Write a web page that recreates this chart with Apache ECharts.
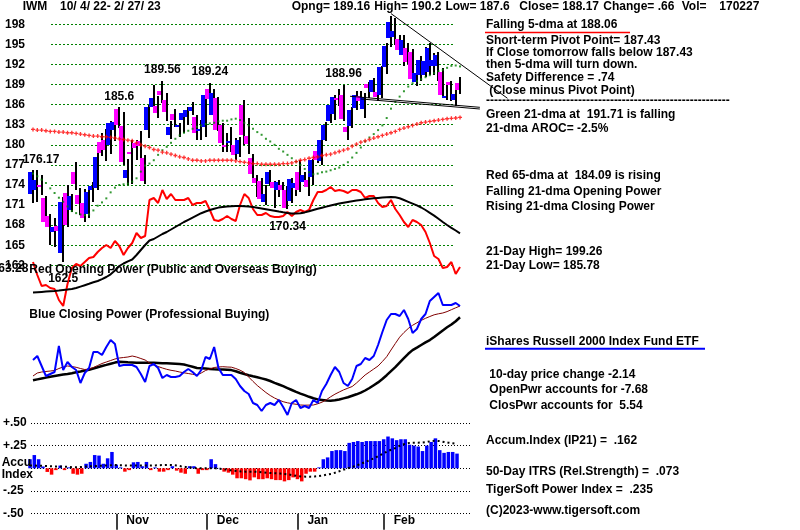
<!DOCTYPE html>
<html><head><meta charset="utf-8">
<script src="https://cdn.jsdelivr.net/npm/echarts@6/dist/echarts.min.js"></script>
<style>html,body{margin:0;padding:0;background:#fff}#c{width:800px;height:530px}</style>
</head><body><div id="c"></div>
<script>
// ---------- DATA ----------
const opens  = [172.6,173.3,174.0,172.1,169.4,167.0,167.9,163.8,172.8,170.2,176.0,172.5,171.3,169.7,173.2,173.5,180.4,180.7,179.9,182.2,185.4,182.8,175.1,179.0,180.2,180.6,178.0,182.2,185.7,185.8,188.1,186.7,181.5,184.6,182.6,183.7,184.2,185.1,184.2,182.0,182.7,188.4,184.5,187.0,183.0,179.9,180.3,179.9,178.7,186.0,181.3,178.0,175.0,174.6,171.5,174.2,174.4,173.2,174.0,173.2,171.6,173.5,176.0,174.4,174.7,175.2,179.1,177.6,180.7,183.6,184.6,187.0,187.5,182.7,182.8,185.5,187.3,185.3,189.1,187.9,187.9,187.4,191.6,195.9,196.1,195.8,193.4,194.4,193.8,189.4,190.4,190.5,190.9,191.7,191.7,190.9,187.0,189.4,186.7,189.16];
const highs  = [176.17,176.3,175.5,172.3,169.6,169.0,168.5,172.2,174.0,172.6,177.4,173.6,173.4,173.3,174.5,179.0,181.8,182.3,183.5,183.8,185.6,184.9,177.9,180.7,180.7,182.1,178.5,186.0,188.9,187.3,189.56,187.7,183.6,185.4,183.2,185.0,185.7,186.4,184.5,183.7,188.0,189.24,188.3,187.2,183.3,181.7,182.7,181.0,181.2,186.7,184.0,178.6,175.5,175.0,174.0,176.2,174.6,174.8,174.5,173.8,175.0,174.5,177.7,176.0,177.6,177.9,180.3,181.0,183.4,186.2,187.4,188.3,188.96,183.7,185.6,188.1,188.0,187.7,189.4,190.0,188.6,191.8,195.2,199.26,199.0,196.4,196.4,195.2,194.3,191.0,193.3,194.6,195.2,193.7,193.8,191.4,188.9,189.5,188.2,190.2];
const lows   = [171.3,171.4,172.5,167.9,165.0,164.8,166.3,162.5,167.8,169.9,173.2,169.5,168.4,169.0,171.5,173.2,178.3,177.6,178.6,180.6,182.5,177.0,174.0,174.2,177.7,177.7,174.2,181.0,185.2,184.0,186.2,183.6,180.9,182.6,181.2,181.7,183.0,184.4,180.7,180.7,181.2,185.5,184.2,182.0,179.0,178.9,179.0,177.7,178.2,180.0,178.7,175.0,172.2,171.6,171.0,173.8,170.6,172.2,172.3,170.34,171.3,172.4,172.9,173.7,172.4,174.0,177.3,177.0,180.5,183.2,183.7,185.8,183.5,180.7,182.5,185.2,185.6,184.0,187.0,187.4,186.6,187.0,190.6,194.6,194.9,193.4,191.7,192.0,189.4,188.8,189.5,190.2,190.5,190.5,189.6,187.2,186.7,186.5,185.78,187.6];
const closes = [176.0,174.8,173.7,168.5,167.7,167.8,167.1,171.5,168.0,172.3,174.2,171.2,169.0,172.9,173.8,178.2,178.8,179.2,183.3,183.4,182.9,177.4,176.3,178.7,179.5,179.8,174.6,185.6,187.0,184.7,187.4,184.9,182.7,183.7,182.9,184.8,185.2,185.7,181.7,182.3,187.4,186.9,187.8,182.2,180.2,179.6,180.6,178.5,180.7,181.4,180.1,175.6,174.3,171.9,172.6,176.0,173.6,174.4,173.2,170.6,174.9,174.3,173.2,175.5,173.7,177.7,177.7,180.7,182.9,186.0,187.2,186.8,183.8,181.9,185.2,187.4,186.6,187.2,188.5,189.7,187.1,191.6,194.7,198.4,197.0,194.2,195.7,192.4,189.9,190.7,192.7,192.5,194.4,192.7,193.4,187.4,187.3,189.0,187.6,188.17];
const ma21   = [175.7,175.3,174.8,174.3,173.5,172.8,172.1,171.5,170.8,170.1,169.8,169.6,169.5,169.6,170.2,170.9,171.4,172.0,172.9,173.6,174.0,174.1,174.2,174.5,175.0,176.0,176.9,177.2,177.7,178.5,179.2,179.7,180.3,180.9,181.4,181.8,182.1,182.4,182.7,182.9,183.1,183.2,183.3,183.5,183.6,183.6,183.8,183.9,183.7,183.3,182.9,182.4,181.9,181.5,180.9,180.5,180.0,179.4,179.0,178.5,178.0,177.5,177.0,176.4,175.9,175.6,175.7,175.9,176.0,176.2,176.4,176.6,177.0,177.4,178.1,178.8,179.6,180.5,181.1,181.6,182.2,182.9,184.0,185.4,186.4,187.2,188.0,188.7,189.2,189.5,189.8,190.1,190.4,190.7,191.0,191.2,191.5,191.8,191.85,191.71];
const ma65   = [182.3,182.2,182.2,182.1,182.0,182.0,181.9,181.9,181.8,181.8,181.7,181.6,181.5,181.4,181.3,181.3,181.2,181.2,181.1,181.0,180.9,180.8,180.7,180.6,180.3,180.0,179.8,179.6,179.3,179.2,178.9,178.8,178.6,178.4,178.2,178.1,177.9,177.7,177.7,177.6,177.6,177.7,177.7,177.7,177.7,177.7,177.7,177.6,177.5,177.4,177.3,177.2,177.2,177.1,177.1,177.1,177.1,177.1,177.2,177.2,177.3,177.5,177.7,177.8,178.0,178.1,178.2,178.4,178.5,178.6,178.8,179.0,179.2,179.4,179.8,180.1,180.4,180.6,180.8,181.0,181.2,181.4,181.6,181.8,182.0,182.3,182.5,182.7,182.9,183.1,183.3,183.4,183.5,183.6,183.7,183.8,183.9,183.95,184.0,184.09];
// trend lines [dayIndex, price]
const downTrend = [[83,199.6],[110,186.95]];
const supportA  = [[73.5,187.25],[103.6,185.6]];
const supportB  = [[76,186.85],[103.6,185.35]];
// Opening Power (relative units) and its 21-dma
const openPower   = [48,35,24,25,22,21,10,4,26,42,46,44,48,52,53,58,62,65,62,69,64,55,62,67,77,72,74,110,112,107,120,111,116,110,110,110,112,105,107,107,109,100,90,89,91,94,91,89,105,116,112,101,95,95,97,94,93,93,94,98,94,98,100,98,100,110,118,118,120,123,119,120,119,117,120,120,118,112,114,114,107,103,104,110,101,95,88,83,90,88,85,78,67,54,51,42,43,48,36,43];
const openPowerMA = [17.5,17.8,18.1,18.4,18.7,19,19.4,19.9,20.4,21,22,23.4,24.8,26.2,27.7,29,30.8,33,35.7,39.5,44,46.5,48.7,50.5,55,60,65,69.5,71,73.5,76,78,80.5,83,85.5,88,90.2,92.4,94.6,96.8,98.5,100,101.3,102.4,103,103.5,103.8,104,104,103.7,103.4,102.9,102.3,101.6,100.8,100,99.2,98.4,97.7,97.1,96.6,96.4,96.8,97.6,98.7,100,101.2,102.3,103.4,104.5,105.5,106.4,107.2,108,108.8,109.5,110.1,110.7,111.2,111.7,112.1,112.5,112.8,113.1,112.7,111.7,110,108.2,106.4,104.6,102.5,100,97.2,94.4,91.2,88,85,82.2,79.5,76.7];
// Closing Power (relative units), short MA and 21-dma
const closePower   = [70,74,64,54,56,58,84,60,68,63,60,47,57,62,78,78,75,83,90,86,64,65,65,65,63,56,48,64,66,62,52,55,53,53,54,58,61,58,54,60,73,71,83,62,55,55,55,51,44,39,36,27,25,19,25,27,25,30,23,15,27,30,22,24,22,30,27,39,46,55,63,58,47,44,51,64,66,72,70,74,85,98,110,116,116,114,120,111,97,101,111,116,129,133,137,125,125,125,127,124];
const closePowerMA = [54,57,58,58.5,59,59.5,61.5,63,64,63.5,62.7,61.5,60.5,61,62.5,64.5,66.5,68,69.5,71,72,72.5,73,74,73,71.5,70,67,65,63.5,62,60.7,59.7,59,58,57.2,56.5,55.7,55,57,59.5,61,62.5,63,63.3,63,62.8,61.5,59.8,57.5,53,48.6,44.5,41,37.5,34.5,32,30,28.3,27.2,26.4,25.7,25,24.8,24.9,25,26.2,27.8,30.2,33.2,35.8,38,40.1,41.8,43.5,47,51,55,58,61,64,68.5,73.3,80,86.5,92.8,97.5,101.5,104.7,107.2,109.6,111.7,113.5,115.2,116.2,117,118.4,120.3,122.2,124];
const closePowerMA21 = [49.7,50.6,51.5,52.4,53.3,54,54.7,55.4,56,56.8,57.7,58.5,59.4,60.3,61.5,62.8,64,65.1,66.3,67.4,68.2,68,67.7,67.5,67.3,67.3,67.3,67.3,67.2,67,66.8,66.7,66.5,66.3,66,65.5,64.4,63.2,62,61.7,61.4,61.1,60.8,60.6,60.4,60.2,59.9,58.8,57.3,56,54.8,53.7,52.7,51.6,50.5,49,47.2,45.5,43.8,41.9,40,38.1,36.4,34.8,33.2,31.7,30.6,30.1,29.6,29.3,29.7,30.5,31.6,32.7,34.2,35.7,37.4,39.5,42,44.8,47.6,51,54.8,58.8,62.8,67.4,71.8,76.2,79.9,82.4,85,87.6,89.9,93,96.3,99.6,102.7,105.5,108.8,112.7];
// Accumulation index (IP21) and its moving average
const accumIndex = [0.10,0.146,0.10,0.02,-0.04,-0.07,-0.02,0.03,-0.02,0.01,-0.06,-0.07,-0.06,0.05,0.07,0.146,0.14,0.05,0.11,0.18,0.04,0.01,-0.037,-0.02,0.066,0.07,0.023,0.07,-0.02,0.01,-0.037,-0.037,-0.02,0.023,-0.026,-0.048,-0.06,0.023,0.023,-0.06,-0.02,-0.02,0.10,0.046,0.004,-0.037,-0.048,-0.07,-0.11,-0.11,-0.12,-0.133,-0.10,-0.12,-0.12,-0.11,-0.12,-0.13,-0.13,-0.144,-0.13,-0.10,-0.12,-0.144,-0.06,-0.037,-0.037,0.01,0.10,0.12,0.19,0.20,0.20,0.19,0.28,0.29,0.30,0.29,0.30,0.30,0.30,0.30,0.32,0.35,0.33,0.31,0.32,0.32,0.26,0.25,0.24,0.19,0.25,0.29,0.33,0.20,0.17,0.18,0.18,0.162];
const accumMA = [0.03,0.03,0.028,0.027,0.025,0.022,0.02,0.02,0.018,0.015,0.012,0.012,0.015,0.02,0.022,0.025,0.028,0.03,0.032,0.035,0.035,0.034,0.032,0.03,0.03,0.03,0.03,0.03,0.03,0.032,0.034,0.036,0.038,0.036,0.03,0.022,0.015,0.01,0.005,0.0,0.0,0.0,0.0,0.0,-0.005,-0.01,-0.018,-0.025,-0.03,-0.035,-0.037,-0.037,-0.037,-0.04,-0.045,-0.05,-0.053,-0.055,-0.058,-0.062,-0.068,-0.076,-0.085,-0.09,-0.092,-0.092,-0.09,-0.085,-0.078,-0.068,-0.06,-0.045,-0.028,-0.012,0.005,0.02,0.036,0.055,0.075,0.095,0.115,0.14,0.165,0.19,0.21,0.23,0.255,0.27,0.28,0.282,0.282,0.285,0.29,0.30,0.304,0.30,0.29,0.282,0.275,0.268];
// annotations: day index, text, value, side
const annoIdx  = [0, 7, 20, 30, 41, 59, 72];
const annoVal  = ['176.17','162.5','185.6','189.56','189.24','170.34','188.96'];
const annoY    = [176.17, 162.5, 185.6, 189.56, 189.24, 170.34, 188.96];
const annoSide = ['left','bottom','top','top','top','bottom','top'];
// axes
const monthLabels = ['Nov','Dec','Jan','Feb'];
const monthStartIdx = [20, 41, 62, 82];
const aiTickLabels = {'0.5':'+.50','0.25':'+.25','0':'','-0.25':'-.25','-0.5':'-.50'};

// ---------- CHART ----------
const FF = '"Liberation Sans", Arial, sans-serif';
const FONT = 'bold 12px ' + FF;
const chart = echarts.init(document.getElementById('c'), null, {renderer:'canvas'});
const idx = a => a.map((v,i)=>[i,v]);

const texts = [
 ['IWM', 22.7, 7],
 ['10/ 4/ 22- 2/ 27/ 23', 60, 7],
 ['Opng= 189.16', 291.7, 7],
 ['High= 190.2', 374.3, 7],
 ['Low= 187.6', 445.4, 7],
 ['Close= 188.17', 519.3, 7],
 ['Change= .66', 603.3, 7],
 ['Vol=', 681.7, 7],
 ['170227', 719.3, 7],
 ['Falling 5-dma at 188.06', 486, 24.8],
 ['Short-term Pivot Point= 187.43', 486, 40.6],
 ['If Close tomorrow falls below 187.43', 486, 52.8],
 ['then 5-dma will turn down.', 486, 65],
 ['Safety Difference = .74', 486, 77.8],
 [' (Close minus Pivot Point)', 486, 90.3],
 ['-------------------------------------------------------------', 486, 100.5],
 ['Green 21-dma at  191.71 is falling', 486, 114.6],
 ['21-dma AROC= -2.5%', 486, 128.8],
 ['Red 65-dma at  184.09 is rising', 486, 175.3],
 ['Falling 21-dma Opening Power', 486, 191.8],
 ['Rising 21-dma Closing Power', 486, 206.3],
 ['21-Day High= 199.26', 486, 251.8],
 ['21-Day Low= 185.78', 486, 266],
 ['iShares Russell 2000 Index Fund ETF', 486, 341.3],
 [' 10-day price change -2.14', 486, 374.3],
 [' OpenPwr accounts for -7.68', 486, 389.6],
 [' ClosPwr accounts for  5.54', 486, 405.3],
 ['Accum.Index (IP21) =  .162', 486, 440.6],
 ['50-Day ITRS (Rel.Strength) =  .073', 486, 471.3],
 ['TigerSoft Power Index =  .235', 486, 489.6],
 ['(C)2023-www.tigersoft.com', 486, 510.6],
 ['Red Opening Power (Public and Overseas Buying)', 29.3, 269.3],
 ['Blue Closing Power (Professional Buying)', 29.3, 314.3],
 ['163.28', -8.4, 268.3],
 ['Accu', 1.7, 462.6],
 ['Index', 1.7, 474.3]
];
const graphics = texts.map(t => ({type:'text', z:50, style:{text:t[0], x:t[1], y:t[2], font:FONT, fill:'#000', align:'left', verticalAlign:'middle'}}));
graphics.push({type:'line', z:50, shape:{x1:485, y1:32.5, x2:630, y2:32.5}, style:{stroke:'#ff0000', lineWidth:1.5}});
graphics.push({type:'line', z:50, shape:{x1:485, y1:348.7, x2:705, y2:348.7}, style:{stroke:'#0000ff', lineWidth:2}});

const xHidden = g => ({type:'value', gridIndex:g, min:-1.5, max:100, show:false});
const lineS = (xi, data, color, width, extra) => Object.assign({type:'line', xAxisIndex:xi, yAxisIndex:xi, data:data, symbol:'none', clip:false, silent:true, animation:false, lineStyle:{color:color, width:width}}, extra||{});

const annoData = annoIdx.map((d,k)=>{
  const side = annoSide[k];
  let label;
  if (side === 'top') label = {position:'top', distance:5};
  else if (side === 'bottom') label = {position:'bottom', distance:11};
  else label = {position:'top', distance:5, offset:[8,0]};
  return {value:[d, annoY[k]], name:annoVal[k], label:label};
});

const option = {
  backgroundColor:'#ffffff',
  animation:false,
  textStyle:{fontFamily:FF},
  grid:[
    {left:26.53, width:483.1, top:4.22, height:281.2},
    {left:51, width:402, top:4.22, height:281.2},
    {left:26.53, width:437.8, top:180, height:130},
    {left:26.53, width:437.8, top:280, height:150},
    {left:23.53, width:437.8, top:422.9, height:90.8},
    {left:30, width:442, top:422.9, height:90.8}
  ],
  xAxis:[
    {type:'value', gridIndex:0, min:-1.5, max:110.5, show:false},
    {type:'value', gridIndex:1, min:0, max:1, show:false},
    xHidden(2),
    xHidden(3),
    {type:'value', gridIndex:4, min:-1.5, max:100, position:'bottom',
      axisLine:{show:false, onZero:false}, splitLine:{show:false},
      axisTick:{show:true, customValues:monthStartIdx, length:16, lineStyle:{color:'#000', width:1.5}},
      axisLabel:{show:true, customValues:monthStartIdx, formatter:v=>monthLabels[monthStartIdx.indexOf(v)] || '',
        align:'left', verticalAlign:'top', margin:1, padding:[0,0,0,10], color:'#000', fontWeight:'bold', fontSize:12, fontFamily:FF}},
    {type:'value', gridIndex:5, min:0, max:1, show:false}
  ],
  yAxis:[
    {type:'value', gridIndex:0, min:159, max:201, show:false},
    {type:'value', gridIndex:1, min:159, max:201, interval:3,
      axisLine:{show:false}, axisTick:{show:false},
      axisLabel:{showMinLabel:false, showMaxLabel:false, margin:26, color:'#000', fontWeight:'bold', fontSize:12, fontFamily:FF},
      splitLine:{show:true, showMinLine:false, showMaxLine:false, lineStyle:{color:'#008000', width:1, type:[2,2]}}},
    {type:'value', gridIndex:2, min:0, max:130, show:false},
    {type:'value', gridIndex:3, min:0, max:150, show:false},
    {type:'value', gridIndex:4, min:-0.5, max:0.5, show:false},
    {type:'value', gridIndex:5, min:-0.5, max:0.5, interval:0.25,
      axisLine:{show:false}, axisTick:{show:false},
      axisLabel:{formatter:v=>aiTickLabels[String(v)] ?? '', align:'left', margin:28, color:'#000', fontWeight:'bold', fontSize:12, fontFamily:FF},
      splitLine:{show:true, lineStyle:{color:'#000', width:1, type:[1,2]}}}
  ],
  graphic:{elements:graphics},
  series:[
    {type:'custom', xAxisIndex:0, yAxisIndex:0, clip:false, silent:true, z:3,
      data: opens.map((o,i)=>[i,o,highs[i],lows[i],closes[i]]),
      encode:{x:0, y:[1,2,3,4]},
      renderItem:function(params, api){
        const i = api.value(0), o = api.value(1), h = api.value(2), l = api.value(3), c = api.value(4);
        const pH = api.coord([i,h]), pL = api.coord([i,l]), pO = api.coord([i,o]), pC = api.coord([i,c]);
        const x = Math.round(pH[0]) - 1;
        const top = Math.round(Math.min(pO[1],pC[1])), bot = Math.round(Math.max(pO[1],pC[1]));
        return {type:'group', children:[
          {type:'rect', shape:{x:x, y:Math.round(pH[1]), width:2, height:Math.max(1, Math.round(pL[1])-Math.round(pH[1]))}, style:{fill:'#000'}},
          {type:'rect', shape:{x:x-4, y:top, width:4, height:Math.max(2, bot-top)}, style:{fill: c>=o ? '#0000ff' : '#ff00ff'}}
        ]};
      }},
    {type:'scatter', xAxisIndex:0, yAxisIndex:0, data:idx(ma21), symbol:'rect', symbolSize:2, itemStyle:{color:'#008000'}, silent:true, z:4},
    {type:'scatter', xAxisIndex:0, yAxisIndex:0, data:idx(ma65), symbol:'path://M1,0H2V1H3V2H2V3H1V2H0V1H1Z', symbolSize:4, itemStyle:{color:'#ff0000'}, silent:true, z:4},
    lineS(0, downTrend, '#000', 1, {z:5}),
    lineS(0, supportA, '#000', 1, {z:5}),
    lineS(0, supportB, '#000', 1, {z:5}),
    {type:'scatter', xAxisIndex:0, yAxisIndex:0, data:annoData, symbolSize:0.1, itemStyle:{color:'#000', opacity:1}, silent:true, z:6,
      label:{show:true, formatter:p=>p.name, color:'#000', opacity:1, textBorderWidth:0, fontWeight:'bold', fontSize:12, fontFamily:FF}},
    lineS(2, idx(openPower), '#ff0000', 2, {z:3}),
    lineS(2, idx(openPowerMA), '#000', 2, {z:3}),
    lineS(3, idx(closePowerMA21), '#000', 2.5, {z:3}),
    lineS(3, idx(closePowerMA), '#800000', 1, {z:3}),
    lineS(3, idx(closePower), '#0000ff', 2, {z:4}),
    {type:'bar', xAxisIndex:4, yAxisIndex:4, data:idx(accumIndex), barWidth:3.5, silent:true, z:3,
      itemStyle:{color:p=>p.value[1]>=0 ? '#0000ff' : '#ff0000'}},
    lineS(4, idx(accumMA), '#000', 2, {z:4, lineStyle:{color:'#000', width:2, type:[2,3]}})
  ]
};
chart.setOption(option);
</script>
</body></html>
